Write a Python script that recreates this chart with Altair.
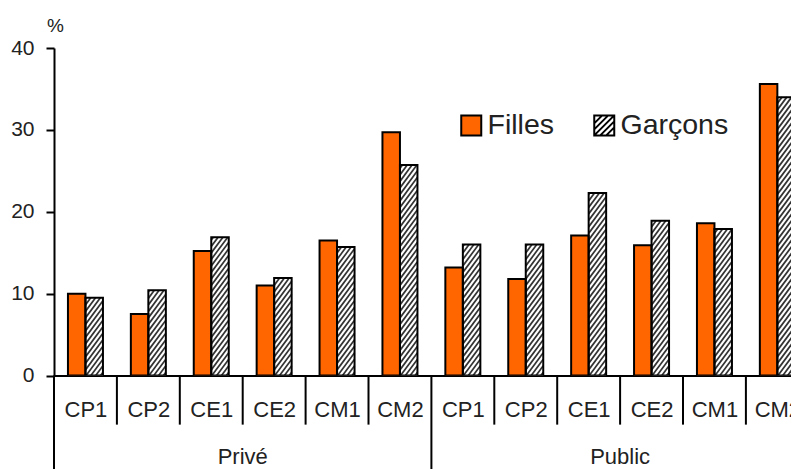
import altair as alt
import pandas as pd

# ---------------- data ----------------
groups = ["Privé", "Public"]
classes = ["CP1", "CP2", "CE1", "CE2", "CM1", "CM2"]
filles_prive = [10.0, 7.5, 15.2, 11.0, 16.5, 29.7]
garcons_prive = [9.5, 10.4, 16.9, 11.9, 15.7, 25.7]
filles_public = [13.2, 11.8, 17.1, 15.9, 18.6, 35.6]
garcons_public = [16.0, 16.0, 22.3, 18.9, 17.9, 34.0]
sexes = ["Filles", "Garçons"]
colors = ["#ff6600", "#ffffff"]
y_ticks = [0, 10, 20, 30, 40]

# ---------------- layout ----------------
PAD_L, PAD_T = 46, 40
W, H = 737, 327.5
X_MAX = 11.717          # visible part of the 12 category slots
Y_MAX = 40
SX = W / X_MAX          # px per category slot
SY = H / Y_MAX          # px per percent
BAR_W = 17.5 / SX
FONT = "Liberation Sans"

rows = []
series = [(groups[0], filles_prive, garcons_prive), (groups[1], filles_public, garcons_public)]
for gi, (g, fv, gv) in enumerate(series):
    for ci, c in enumerate(classes):
        center = gi * len(classes) + ci + 0.5
        rows.append(dict(groupe=g, classe=c, sexe=sexes[0], valeur=fv[ci],
                         x0=center - BAR_W, x1=center, base=0.0, fill=colors[0]))
        rows.append(dict(groupe=g, classe=c, sexe=sexes[1], valeur=gv[ci],
                         x0=center, x1=center + BAR_W, base=0.0, fill=colors[1]))
bars = pd.DataFrame(rows)

# hatch lines ("/") for the Garçons bars, derived from each bar's extent
SLOPE = 1.35
PERIOD = 6.5
hrows = []
for r in bars[bars.sexe == sexes[1]].itertuples():
    Wp = (r.x1 - r.x0) * SX
    Hp = r.valeur * SY
    c = -SLOPE * Wp + PERIOD / 2
    while c < Hp:
        X_lo = max(0.0, -c / SLOPE)
        X_hi = min(Wp, (Hp - c) / SLOPE)
        if X_hi > X_lo:
            hrows.append(dict(xa=r.x0 + X_lo / SX, ya=(SLOPE * X_lo + c) / SY,
                              xb=r.x0 + X_hi / SX, yb=(SLOPE * X_hi + c) / SY))
        c += PERIOD
hatch_df = pd.DataFrame(hrows)

# separators under the axis
n_total = len(groups) * len(classes)
short_sep = pd.DataFrame({"x": [i for i in range(1, n_total) if i % len(classes) != 0]})
short_sep["y"] = 0.0
short_sep["y2"] = -6.0
group_sep = pd.DataFrame({"x": [i * len(classes) for i in range(len(groups))]})
group_sep["y"] = 0.0
group_sep["y2"] = -11.6
group_lbl = pd.DataFrame({"groupe": groups,
                          "x": [i * len(classes) + len(classes) / 2 for i in range(len(groups))],
                          "y": [-10.0] * len(groups)})

xs = alt.Scale(domain=[0, X_MAX], nice=False, zero=False)
ys = alt.Scale(domain=[0, Y_MAX], nice=False, zero=True)

label_arr = "[" + ",".join("'%s'" % c for c in classes) + "]"
x_axis = alt.Axis(values=[i + 0.5 for i in range(n_total)],
                  labelExpr=label_arr + "[floor(datum.value) % " + str(len(classes)) + "]",
                  tickSize=0, domainColor="black", domainWidth=2, labelFontSize=22,
                  labelPadding=24, labelColor="#222", title=None, grid=False,
                  labelFont=FONT, labelOverlap=False, labelBound=False)
y_axis = alt.Axis(values=y_ticks, title="%", titleAngle=0, titleX=1, titleY=-23,
                  titleAlign="center", titleBaseline="middle", titleFontSize=19,
                  titleFontWeight="normal", titleColor="#222", titleFont=FONT,
                  labelFontSize=21, labelPadding=12, labelColor="#222", labelFont=FONT,
                  tickSize=8, tickWidth=2, tickColor="black",
                  domainColor="black", domainWidth=2, grid=False)


def X(field):
    return alt.X(field, scale=xs, axis=x_axis)


def Y(field):
    return alt.Y(field, scale=ys, axis=y_axis)


bar_fill = alt.Chart(bars).mark_rect(clip=True, strokeWidth=0).encode(
    x=X("x0:Q"), x2="x1:Q", y=Y("valeur:Q"), y2="base:Q",
    fill=alt.Fill("fill:N", scale=None, legend=None),
)

hatch = alt.Chart(hatch_df).mark_rule(color="#333333", strokeWidth=1.7, clip=True).encode(
    x=X("xa:Q"), x2="xb:Q", y=Y("ya:Q"), y2="yb:Q",
)

outline = alt.Chart(bars).mark_rect(clip=True, fillOpacity=0, stroke="black", strokeWidth=2).encode(
    x=X("x0:Q"), x2="x1:Q", y=Y("valeur:Q"), y2="base:Q",
)

sep1 = alt.Chart(short_sep).mark_rule(color="black", strokeWidth=2).encode(
    x=X("x:Q"), y=Y("y:Q"), y2="y2:Q",
)
sep2 = alt.Chart(group_sep).mark_rule(color="black", strokeWidth=2).encode(
    x=X("x:Q"), y=Y("y:Q"), y2="y2:Q",
)
glabels = alt.Chart(group_lbl).mark_text(fontSize=22, color="#222", font=FONT,
                                         baseline="middle", align="center").encode(
    x=X("x:Q"), y=Y("y:Q"), text="groupe:N",
)

HATCH_PATH = ("M-1,-1H1V1H-1Z M-1,-0.2L-0.2,-1 M-1,0.4L0.4,-1 M-1,1L1,-1 "
              "M-0.4,1L1,-0.4 M0.2,1L1,0.2")
legend_def = alt.Legend(title=None, orient="none", legendX=403, legendY=63,
                        direction="horizontal", symbolSize=400,
                        symbolStrokeColor="black", symbolStrokeWidth=2,
                        labelFontSize=28.5, labelOffset=2, columnPadding=35,
                        labelColor="#222", labelFont=FONT, padding=0)
legend_layer = alt.Chart(bars).transform_filter("false").mark_point(
    filled=True, opacity=1, stroke="black", strokeWidth=2).encode(
    x=X("x0:Q"), y=Y("valeur:Q"),
    color=alt.Color("sexe:N", scale=alt.Scale(domain=sexes, range=colors), legend=legend_def),
    shape=alt.Shape("sexe:N", scale=alt.Scale(domain=sexes, range=["square", HATCH_PATH]),
                    legend=legend_def),
)

chart = alt.layer(bar_fill, hatch, outline, sep1, sep2, glabels, legend_layer).properties(
    width=W, height=H,
    padding={"left": PAD_L, "top": PAD_T, "right": 0, "bottom": 93.5},
    autosize=alt.AutoSizeParams(type="none"),
    background="white",
).configure(font=FONT).configure_view(stroke=None)

chart.save("out.html", embed_options={"renderer": "svg", "actions": False})
